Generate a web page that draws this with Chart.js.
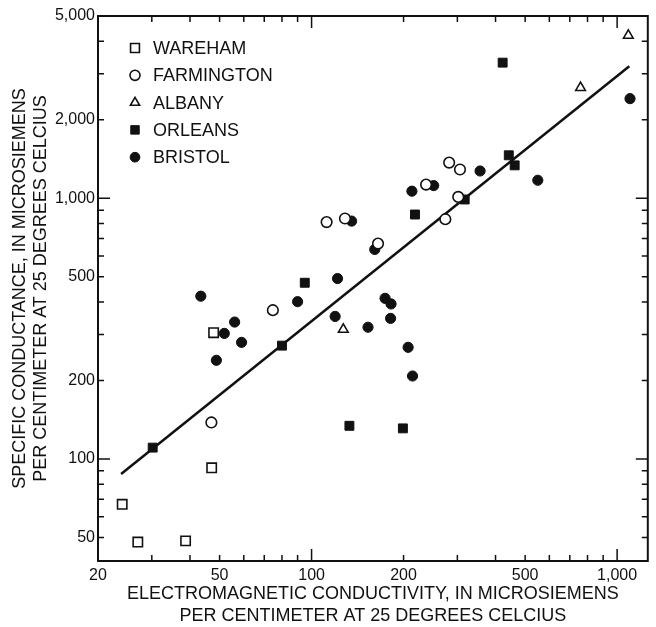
<!DOCTYPE html>
<html>
<head>
<meta charset="utf-8">
<script src="https://cdn.jsdelivr.net/npm/chart.js"></script>
<style>
  html, body { margin: 0; padding: 0; background: #fff; }
</style>
</head>
<body>
<canvas id="conductChart" width="656" height="627"></canvas>
<script>
// Values (microsiemens per centimeter at 25 degrees C)
const warehamX = [24.0, 27.0, 38.7, 47.1, 47.8];
const warehamY = [67, 48, 48.5, 92.5, 305];

const farmingtonX = [47.0, 74.7, 112, 128.6, 165, 237, 274, 282, 302, 306];
const farmingtonY = [138, 372, 810, 836, 670, 1128, 831, 1370, 1012, 1289];

const albanyX = [127, 759, 1088];
const albanyY = [314, 2655, 4212];

const orleansX = [30.2, 80, 95, 133, 199, 218, 317, 422, 442, 462];
const orleansY = [110.5, 272, 474, 134, 131, 866, 989, 3311, 1461, 1337];

const bristolX = [43.4, 48.8, 51.8, 56, 59, 90, 119.4, 121.6, 135.2, 153, 161, 174, 181.4, 182, 207, 213, 214, 251, 356, 550, 1102];
const bristolY = [421, 239, 303, 335, 280, 401, 352, 492, 817, 320, 636, 413, 346, 393, 268, 1064, 208, 1118, 1272, 1172, 2410];

// regression line end points
const fitX = [23.8, 1096];
const fitY = [87.6, 3206];

// tick marks and labels
const xTickValues = [20, 30, 40, 50, 60, 70, 80, 90, 100, 200, 300, 400, 500, 600, 700, 800, 900, 1000];
const xTickLabels = [20, 50, 100, 200, 500, 1000];
const yTickValues = [50, 60, 70, 80, 90, 100, 200, 300, 400, 500, 600, 700, 800, 900, 1000, 2000, 3000, 4000, 5000];
const yTickLabels = [50, 100, 200, 500, 1000, 2000, 5000];
const decadeTicks = [100, 1000];

const ink = '#111';
const family = '"Liberation Sans", Arial, Helvetica, sans-serif';
Chart.defaults.font.family = family;
Chart.defaults.color = ink;

const pts = (xs, ys) => xs.map((x, i) => ({ x, y: ys[i] }));

// box round the plot with inward ticks on all four sides
const frameTicks = {
  id: 'frameTicks',
  beforeDatasetsDraw(chart) {
    const { ctx, chartArea: a, scales: { x, y } } = chart;
    ctx.save();
    ctx.strokeStyle = ink;
    ctx.lineWidth = 2;
    ctx.strokeRect(a.left, a.top, a.right - a.left, a.bottom - a.top);
    ctx.lineWidth = 1.5;
    ctx.beginPath();
    xTickValues.forEach(v => {
      const px = x.getPixelForValue(v);
      const len = decadeTicks.includes(v) ? 12 : 6;
      ctx.moveTo(px, a.bottom); ctx.lineTo(px, a.bottom - len);
      ctx.moveTo(px, a.top); ctx.lineTo(px, a.top + len);
    });
    yTickValues.forEach(v => {
      const py = y.getPixelForValue(v);
      const len = decadeTicks.includes(v) ? 12 : 6;
      ctx.moveTo(a.left, py); ctx.lineTo(a.left + len, py);
      ctx.moveTo(a.right, py); ctx.lineTo(a.right - len, py);
    });
    ctx.stroke();
    ctx.restore();
  }
};

// legend drawn inside the upper left corner of the plot
const insetLegend = {
  id: 'insetLegend',
  afterDraw(chart) {
    const { ctx, chartArea: a } = chart;
    const items = chart.data.datasets.filter(d => d.inLegend);
    ctx.save();
    ctx.font = '18px ' + family;
    ctx.textBaseline = 'middle';
    items.forEach((d, i) => {
      const cx = a.left + 37;
      const cy = a.top + 32 + i * 27.3;
      ctx.fillStyle = d.backgroundColor;
      ctx.strokeStyle = d.borderColor;
      ctx.lineWidth = d.borderWidth;
      Chart.helpers.drawPoint(ctx, {
        pointStyle: d.pointStyle,
        radius: d.pointRadius * 0.95,
        borderWidth: d.borderWidth,
        rotation: 0
      }, cx, cy);
      ctx.fillStyle = ink;
      ctx.fillText(d.label, a.left + 55, cy + 1);
    });
    ctx.restore();
  }
};

const marker = (label, xs, ys, style, radius, open) => ({
  label,
  data: pts(xs, ys),
  inLegend: true,
  pointStyle: style,
  pointRadius: radius,
  pointHoverRadius: radius,
  backgroundColor: open ? '#fff' : ink,
  borderColor: ink,
  borderWidth: open ? 1.6 : 1,
  order: 1
});

new Chart(document.getElementById('conductChart'), {
  type: 'scatter',
  data: {
    datasets: [
      marker('WAREHAM', warehamX, warehamY, 'rect', 6.6, true),
      marker('FARMINGTON', farmingtonX, farmingtonY, 'circle', 5.3, true),
      marker('ALBANY', albanyX, albanyY, 'triangle', 5.6, true),
      marker('ORLEANS', orleansX, orleansY, 'rect', 6.3, false),
      marker('BRISTOL', bristolX, bristolY, 'circle', 5.1, false),
      {
        label: 'fit',
        data: pts(fitX, fitY),
        showLine: true,
        borderColor: ink,
        borderWidth: 2.5,
        pointRadius: 0,
        fill: false,
        order: 10
      }
    ]
  },
  options: {
    responsive: false,
    animation: false,
    layout: { padding: { top: 16, right: 4, left: 0, bottom: 0 } },
    plugins: {
      legend: { display: false },
      tooltip: { enabled: false }
    },
    scales: {
      x: {
        type: 'logarithmic',
        min: 20,
        max: 1260,
        grid: { display: false, drawTicks: false },
        border: { display: false },
        afterBuildTicks: s => { s.ticks = xTickLabels.map(v => ({ value: v })); },
        afterFit: s => { s.height = 66; },
        ticks: {
          padding: 5,
          autoSkip: false,
          maxRotation: 0,
          font: { size: 16 },
          callback: v => Number(v).toLocaleString('en-US')
        },
        title: {
          display: true,
          text: ['ELECTROMAGNETIC CONDUCTIVITY, IN MICROSIEMENS', 'PER CENTIMETER AT 25 DEGREES CELCIUS'],
          font: { size: 18, lineHeight: 1.22 },
          padding: { top: 0, bottom: 0 }
        }
      },
      y: {
        type: 'logarithmic',
        min: 40.6,
        max: 5000,
        grid: { display: false, drawTicks: false },
        border: { display: false },
        afterBuildTicks: s => { s.ticks = yTickLabels.map(v => ({ value: v })); },
        afterFit: s => { s.width = 98; },
        ticks: {
          padding: 3,
          autoSkip: false,
          font: { size: 16 },
          callback: v => Number(v).toLocaleString('en-US')
        },
        title: {
          display: true,
          text: ['SPECIFIC CONDUCTANCE, IN MICROSIEMENS', 'PER CENTIMETER AT 25 DEGREES CELCIUS'],
          font: { size: 18, lineHeight: 1.2 },
          padding: { top: 9, bottom: 0 }
        }
      }
    }
  },
  plugins: [frameTicks, insetLegend]
});
</script>
</body>
</html>
